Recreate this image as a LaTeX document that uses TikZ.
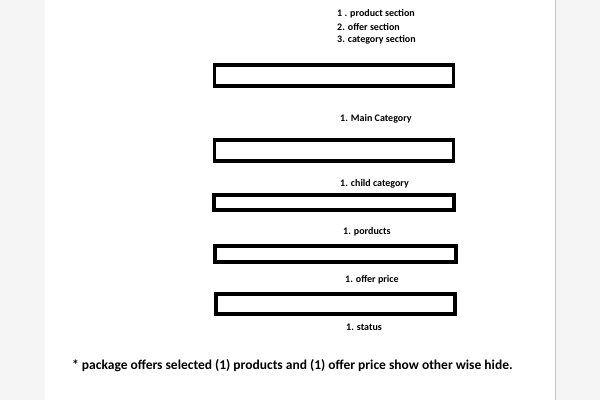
\documentclass[tikz,border=0pt]{standalone}
\usepackage{fontspec}
\setmainfont{Carlito}
\usepackage{tikz}
\usetikzlibrary{positioning}

\begin{document}
\begin{tikzpicture}[
x=1pt, y=-1pt,
fieldbox/.style={rectangle, draw=black, fill=white, line width=3.5pt, inner sep=0pt, minimum width=239pt},
caption/.style={anchor=west, inner sep=0pt, font=\fontsize{10}{12}\selectfont\bfseries},
note/.style={anchor=west, inner sep=0pt, font=\fontsize{13.5}{16}\selectfont\bfseries},
]
\useasboundingbox (0,0) rectangle (600,400);
% page
\fill[gray!8] (0,0) rectangle (600,400);
\fill[white] (45,0) rectangle (555,400);
\draw[gray!45, line width=1.5pt] (555.5,0) -- (555.5,400);

% sections list
\node[caption] (sec1) at (337,14) {1 . product section};
\node[caption] (sec2) at (337,27) {2. offer section};
\node[caption] (sec3) at (337,40) {3. category section};

% fields
\node[fieldbox, minimum height=21pt] (box1) at (334,75.5) {};
\node[caption] (lab1) at (340,119) {1. Main Category};
\node[fieldbox, minimum height=21pt] (box2) at (334,150.5) {};
\node[caption] (lab2) at (340,184) {1. child category};
\node[fieldbox, minimum width=240pt, minimum height=15pt] (box3) at (334,202.5) {};
\node[caption] (lab3) at (343,232) {1. porducts};
\node[fieldbox, minimum width=241pt, minimum height=16pt] (box4) at (335.5,254) {};
\node[caption] (lab4) at (345,280) {1. offer price};
\node[fieldbox, minimum height=20pt] (box5) at (335.5,304) {};
\node[caption] (lab5) at (346,327) {1. status};

% footnote
\node[note] (foot) at (72,366) {* package offers selected (1) products and (1) offer price show other wise hide.};
\end{tikzpicture}
\end{document}
